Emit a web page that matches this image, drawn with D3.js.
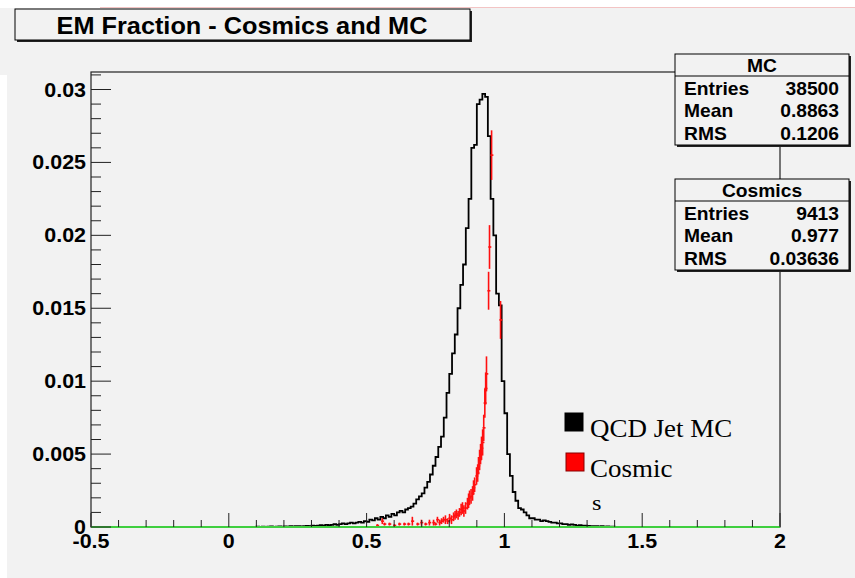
<!DOCTYPE html>
<html><head><meta charset="utf-8">
<script src="https://cdn.jsdelivr.net/npm/d3@7"></script>
<style>html,body{margin:0;padding:0;background:#fff;}svg{display:block;}</style>
</head><body>
<script>
// ---------- DATA ----------
const title = "EM Fraction - Cosmics and MC";
const xTickLabels = ["-0.5","0","0.5","1","1.5","2"];
const yTickLabels = ["0","0.005","0.01","0.015","0.02","0.025","0.03"];

// MC histogram: bins of width 0.01 starting at 0.10
const mcBinStart = 0.10, mcBinWidth = 0.01;
const mcValues = [
 0.00002,0,0.00003,0,0.00002,0.00004,0,0.00003,0.00004,0.00002,                  // 0.10-0.19
 0.00004,0.00003,0.00005,0.00004,0.00006,0.00005,0.00004,0.00006,0.00007,0.00006, // 0.20-0.29
 0.0001,0.00008,0.0001,0.00012,0.0001,0.00015,0.00012,0.00015,0.0002,0.00015,   // 0.30-0.39
 0.0002,0.00025,0.0002,0.00025,0.0003,0.00025,0.0003,0.00035,0.0003,0.0004,      // 0.40-0.49
 0.00035,0.0005,0.00045,0.0006,0.0005,0.0007,0.0006,0.0008,0.0007,0.0009,        // 0.50-0.59
 0.0008,0.001,0.0011,0.001,0.0012,0.0013,0.0014,0.0016,0.0019,0.0021,            // 0.60-0.69
 0.0023,0.0027,0.0031,0.0036,0.0042,0.0048,0.0055,0.0062,0.0075,0.0092,          // 0.70-0.79
 0.0105,0.0119,0.0132,0.0150,0.0166,0.0180,0.0205,0.0225,0.0260,0.0262,          // 0.80-0.89
 0.0290,0.0293,0.0297,0.0295,0.0268,0.0225,0.0200,0.0160,0.0152,0.0100,          // 0.90-0.99
 0.0078,0.0050,0.0035,0.0024,0.0018,0.0013,0.0012,0.0010,0.0008,0.0006,          // 1.00-1.09
 0.0006,0.0005,0.0005,0.0004,0.00045,0.0004,0.00035,0.0003,0.0003,0.00025,       // 1.10-1.19
 0.00025,0.0002,0.0002,0.00015,0.00018,0.00015,0.0001,0.00012,0.0001,0.0001,     // 1.20-1.29
 0.00008,0.00006,0.00005,0.00006,0.00004,0.00005,0.00003,0.00004,0.00003,0.00002 // 1.30-1.39
];

// Cosmic points (x, value, error)
const cosmicX   = [0.539,0.557,0.565,0.583,0.601,0.619,0.637,0.652,0.666,0.685,0.699,0.714,0.728,0.743,0.750,0.757,0.765,0.772,0.779,0.786,0.794,0.801,0.808,0.8155,0.821,0.826,0.832,0.837,0.843,0.848,0.853,0.859,0.866,0.870,0.8735,0.879,0.8845,0.888,0.892,0.899,0.903,0.906,0.910,0.9135,0.917,0.921,0.925,0.929,0.932,0.935,0.9426,0.946,0.9535,0.986];
const cosmicY   = [0.0001,0.0004,0.0002,0.0002,0.0001,0.0002,0.0002,0.0002,0.0004,0.0002,0.0003,0.0002,0.0003,0.0003,0.0002,0.0005,0.0003,0.0004,0.0005,0.0005,0.0004,0.0006,0.0005,0.0007,0.0008,0.0009,0.0008,0.0010,0.0012,0.0013,0.0011,0.0013,0.0016,0.0018,0.0020,0.0021,0.0023,0.0027,0.0029,0.0035,0.0037,0.0042,0.0046,0.0050,0.0054,0.0058,0.0068,0.0085,0.0095,0.0105,0.0162,0.0192,0.0255,0.0142];
const cosmicErr = [0.0001,0.0002,0.0001,0.0001,0.0001,0.0001,0.0001,0.0001,0.0003,0.0001,0.0002,0.0001,0.0002,0.0002,0.0001,0.0002,0.0002,0.0002,0.0002,0.0003,0.0002,0.0003,0.0003,0.0003,0.0003,0.0003,0.0003,0.0003,0.0004,0.0004,0.0004,0.0004,0.0004,0.0005,0.0005,0.0005,0.0005,0.0005,0.0005,0.0006,0.0006,0.0006,0.0007,0.0007,0.0008,0.0009,0.0009,0.0010,0.0011,0.0012,0.0013,0.0015,0.0017,0.0013];

const statsMC = {name:"MC", rows:[["Entries","38500"],["Mean","0.8863"],["RMS","0.1206"]]};
const statsCos = {name:"Cosmics", rows:[["Entries","9413"],["Mean","0.977"],["RMS","0.03636"]]};
const legendItems = [["QCD Jet MC","#000000","#000000"],["Cosmic","#ff0000","#880000"]];

// ---------- DRAW ----------
const W=855,H=578;
const svg=d3.select("body").append("svg").attr("width",W).attr("height",H);
const BG="#f2f2f2";
svg.append("rect").attr("x",7).attr("y",8).attr("width",W-7).attr("height",H-8).attr("fill",BG);
svg.append("rect").attr("x",0).attr("y",8).attr("width",7).attr("height",67).attr("fill",BG);
svg.append("line").attr("x1",100).attr("x2",W).attr("y1",7.5).attr("y2",7.5).attr("stroke","#f3c4c4").attr("stroke-width",1);

const SX=1.1;
function txt(x,y,s,o){
  o=o||{};
  return svg.append("text").attr("transform",`translate(${x},${y}) scale(${SX},1)`)
   .attr("text-anchor",o.anchor||"start")
   .attr("font-family",o.family||"'Liberation Sans', Arial, Helvetica, sans-serif")
   .attr("font-weight",o.weight||"bold")
   .attr("font-size",o.size||18).attr("fill","#000").text(s);
}

const x=d3.scaleLinear().domain([-0.5,2]).range([91,780]);
const y=d3.scaleLinear().domain([0,0.0312]).range([527,72]);

// frame
svg.append("rect").attr("x",91).attr("y",72).attr("width",689).attr("height",455)
  .attr("fill",BG).attr("stroke","#222").attr("stroke-width",1.2);

// MC histogram step path
const mcPts=[];
mcPts.push([x(-0.5),y(0)]);
mcPts.push([x(mcBinStart),y(0)]);
mcValues.forEach((v,i)=>{
  const a=mcBinStart+i*mcBinWidth, b=a+mcBinWidth;
  mcPts.push([x(a),y(v)]); mcPts.push([x(b),y(v)]);
});
mcPts.push([x(mcBinStart+mcValues.length*mcBinWidth),y(0)]);
mcPts.push([x(2),y(0)]);
svg.append("path").attr("d",d3.line()(mcPts)).attr("fill","none").attr("stroke","#000").attr("stroke-width",1.8);

// Cosmic error bars
const cg=svg.append("g").attr("stroke","#ff1010").attr("stroke-width",1.6);
cosmicX.forEach((cx,i)=>{
  const px=x(cx);
  cg.append("line").attr("x1",px).attr("x2",px).attr("y1",y(Math.max(0,cosmicY[i]-cosmicErr[i]))).attr("y2",y(cosmicY[i]+cosmicErr[i]));
  cg.append("line").attr("x1",px-1.2).attr("x2",px+1.8).attr("y1",y(cosmicY[i])).attr("y2",y(cosmicY[i]));
});

// green zero line
svg.append("line").attr("x1",x(-0.5)).attr("x2",x(2)).attr("y1",y(0)).attr("y2",y(0)).attr("stroke","#3fcf3f").attr("stroke-width",2);

// axes ticks
const tg=svg.append("g").attr("stroke","#222").attr("stroke-width",1);
d3.range(-0.5,2.0001,0.1).forEach((v,i)=>{
  const major = (i%5===0);
  tg.append("line").attr("x1",x(v)).attr("x2",x(v)).attr("y1",y(0)).attr("y2",y(0)-(major?14:7));
});
d3.range(0,0.03121,0.001).forEach((v,i)=>{
  const major=(i%5===0);
  tg.append("line").attr("x1",x(-0.5)).attr("x2",x(-0.5)+(major?20:10)).attr("y1",y(v)).attr("y2",y(v));
});
// tick labels
xTickLabels.forEach(s=>{ txt(x(+s),548,s,{anchor:"middle",size:19.5}); });
yTickLabels.forEach(s=>{ txt(86,y(+s)+7,s,{anchor:"end",size:19.5}); });

// title box
svg.append("rect").attr("x",17).attr("y",11).attr("width",455).attr("height",31).attr("fill","#222");
svg.append("rect").attr("x",15).attr("y",9).attr("width",455).attr("height",31).attr("fill",BG).attr("stroke","#000").attr("stroke-width",1);
txt(242,34,title,{anchor:"middle",size:23});

// stats boxes
function statsBox(st,top){
  const l=675,r=849,h=91;
  svg.append("rect").attr("x",l+2).attr("y",top+2).attr("width",r-l).attr("height",h).attr("fill","#222");
  svg.append("rect").attr("x",l).attr("y",top).attr("width",r-l).attr("height",h).attr("fill",BG).attr("stroke","#000").attr("stroke-width",1);
  svg.append("line").attr("x1",l).attr("x2",r).attr("y1",top+22).attr("y2",top+22).attr("stroke","#000");
  txt((l+r)/2,top+18,st.name,{anchor:"middle",size:17.5});
  st.rows.forEach((rw,i)=>{
    txt(684,top+41+i*22.3,rw[0],{size:17.5});
    txt(839,top+41+i*22.3,rw[1],{anchor:"end",size:17.5});
  });
}
statsBox(statsMC,54);
statsBox(statsCos,179);

// legend
legendItems.forEach((it,i)=>{
  const yy=[413,453][i];
  svg.append("rect").attr("x",565+i).attr("y",yy).attr("width",18).attr("height",18).attr("fill",it[1]).attr("stroke",it[2]).attr("stroke-width",1);
  txt(590,yy+24,it[0],{family:"'Liberation Serif','Times New Roman',serif",weight:"normal",size:24.5});
});
txt(592,510,"s",{family:"'Liberation Serif','Times New Roman',serif",weight:"normal",size:22});
</script>
</body></html>
